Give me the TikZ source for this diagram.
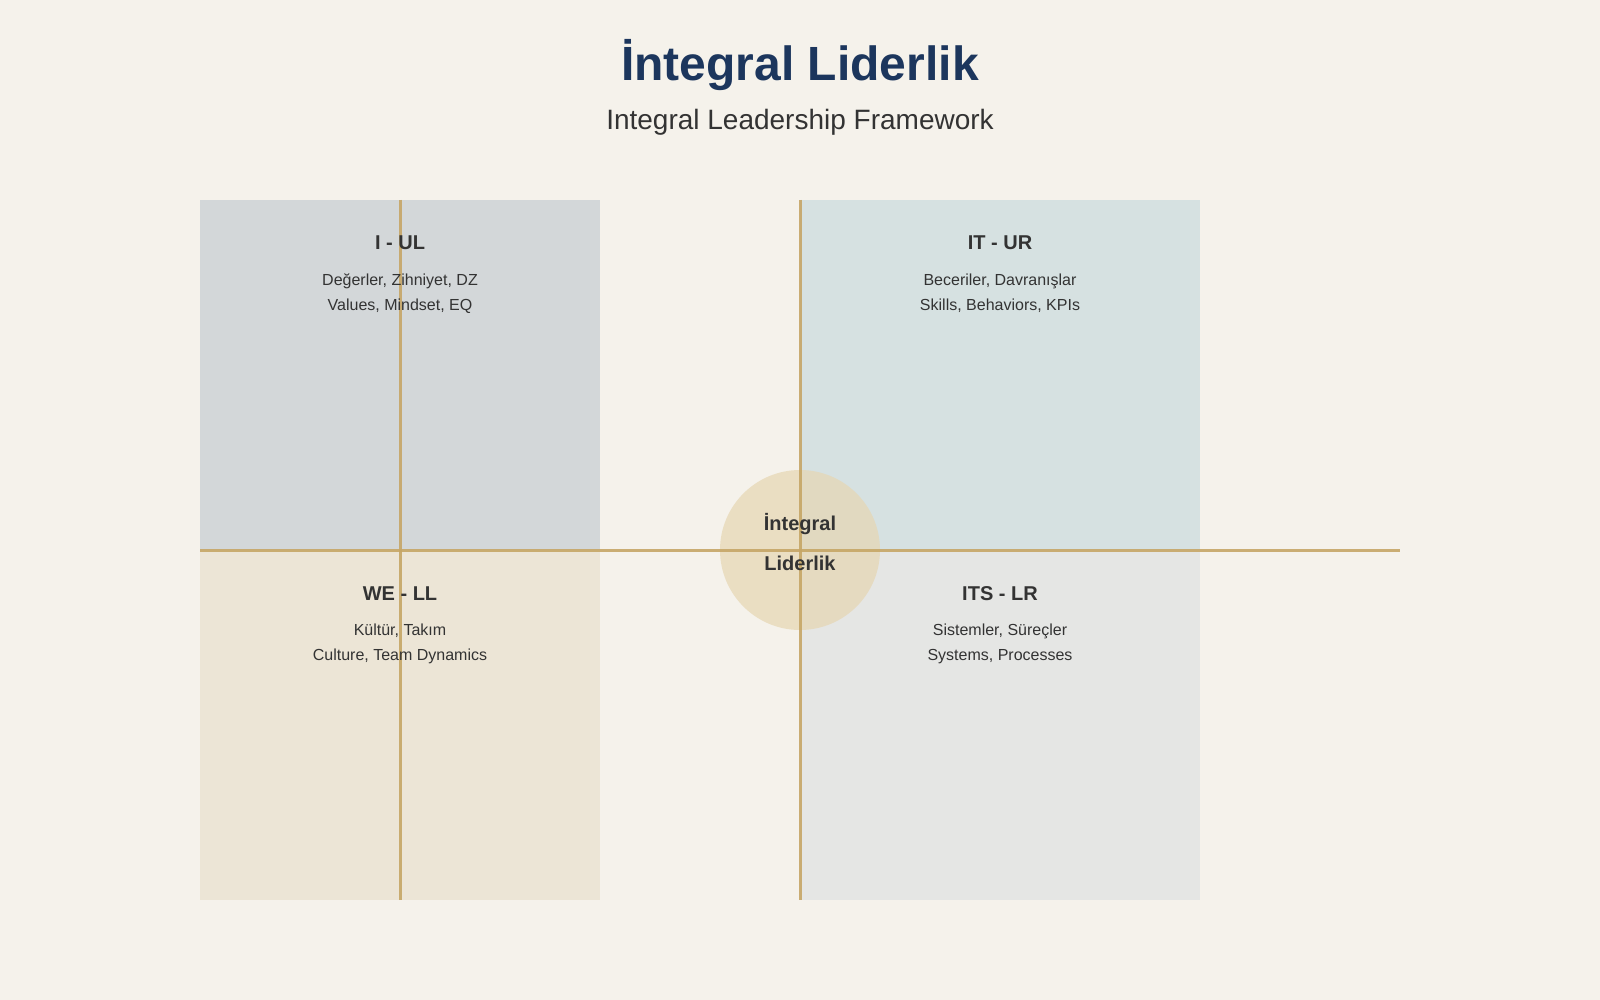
\documentclass[tikz,border=0pt]{standalone}
\usepackage{fontspec}
\setmainfont{Liberation Sans}
\usepackage{tikz}
\usetikzlibrary{positioning,backgrounds}
\definecolor{bgcol}{HTML}{F5F2EB}
\definecolor{navy}{HTML}{1C365D}
\definecolor{ink}{HTML}{333333}
\definecolor{gold}{HTML}{C6A666}
\definecolor{ulcol}{HTML}{D3D7D9}
\definecolor{urcol}{HTML}{D6E1E1}
\definecolor{llcol}{HTML}{ECE5D6}
\definecolor{lrcol}{HTML}{E5E6E4}
\definecolor{core}{HTML}{E6D6B2}
\begin{document}
\begin{tikzpicture}[x=1pt,y=-1pt,
  quad/.style={inner sep=0pt},
  hd/.style={anchor=base,text=ink,font=\fontsize{20}{24}\selectfont\bfseries},
  sub/.style={anchor=base,text=ink,font=\fontsize{16}{19}\selectfont},
  axis/.style={draw=gold,line width=3pt,opacity=0.9}]
\fill[bgcol] (0,0) rectangle (1600,1000);
\useasboundingbox (0,0) rectangle (1600,1000);
% title
\node (title) at (800,81) [anchor=base,text=navy,font=\fontsize{48}{56}\selectfont\bfseries] {İntegral Liderlik};
\node (subtitle) at (800,130) [anchor=base,text=ink,font=\fontsize{28}{32}\selectfont] {Integral Leadership Framework};
% quadrants
\fill[ulcol] (200,200) rectangle (600,550);
\fill[urcol] (800,200) rectangle (1200,550);
\fill[llcol] (200,550) rectangle (600,900);
\fill[lrcol] (800,550) rectangle (1200,900);
% centre
\fill[core,opacity=0.7] (800,550) circle (80);
% axes
\coordinate (vlt) at (400,200);
\coordinate (vlb) at (400,900);
\coordinate (vrt) at (800,200);
\coordinate (vrb) at (800,900);
\coordinate (hl) at (200,550);
\coordinate (hr) at (1400,550);
\draw[axis] (vlt)--(vlb);
\draw[axis] (vrt)--(vrb);
\draw[axis] (hl)--(hr);
% labels
\node (ul) at (400,250) [hd] {I - UL};
\node (ul1) at (400,285) [sub] {Değerler, Zihniyet, DZ};
\node (ul2) at (400,310) [sub] {Values, Mindset, EQ};
\node (ur) at (1000,250) [hd] {IT - UR};
\node (ur1) at (1000,285) [sub] {Beceriler, Davranışlar};
\node (ur2) at (1000,310) [sub] {Skills, Behaviors, KPIs};
\node (ll) at (400,600) [hd] {WE - LL};
\node (ll1) at (400,635) [sub] {Kültür, Takım};
\node (ll2) at (400,660) [sub] {Culture, Team Dynamics};
\node (lr) at (1000,600) [hd] {ITS - LR};
\node (lr1) at (1000,635) [sub] {Sistemler, Süreçler};
\node (lr2) at (1000,660) [sub] {Systems, Processes};
\node (c1) at (800,530) [hd] {İntegral};
\node (c2) at (800,570) [hd] {Liderlik};
\end{tikzpicture}
\end{document}
